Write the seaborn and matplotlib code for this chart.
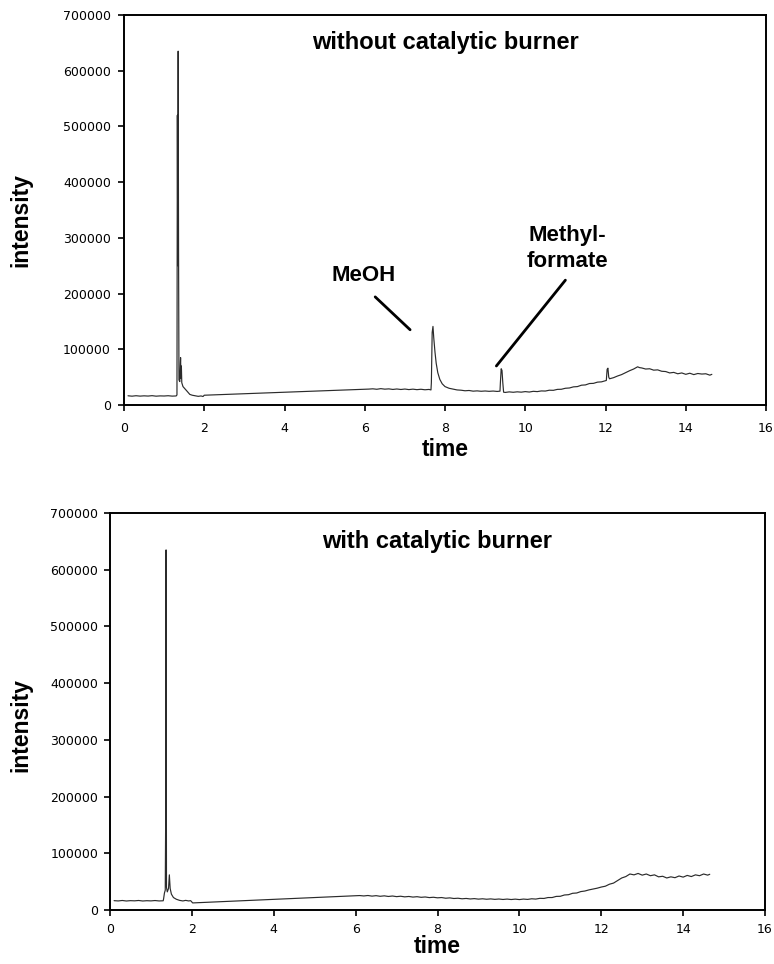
import matplotlib
matplotlib.use("Agg")
import matplotlib.pyplot as plt
import seaborn as sns
import pandas as pd

# Chromatogram without the catalytic burner (time in min, detector intensity)
time_without = [
    0.10, 0.20, 0.30, 0.40, 0.50, 0.60, 0.70, 0.80, 0.90, 1.00, 1.10, 1.20, 1.30,
    1.32, 1.33, 1.34, 1.35, 1.36, 1.37, 1.39, 1.41, 1.42, 1.43, 1.44, 1.47, 1.52,
    1.58, 1.64, 1.70, 1.78, 1.85, 1.92, 1.97, 2.00,
    6.10, 6.20, 6.30, 6.40, 6.50, 6.60, 6.70, 6.80, 6.90, 7.00, 7.10, 7.20, 7.30,
    7.40, 7.50, 7.60, 7.65,
    7.66, 7.68, 7.70, 7.72, 7.75, 7.78, 7.82, 7.87, 7.93, 8.00, 8.10, 8.20, 8.30,
    8.40, 8.50, 8.60, 8.70, 8.80, 8.90, 9.00, 9.10, 9.20, 9.30, 9.37,
    9.38, 9.40, 9.42, 9.44, 9.46, 9.50, 9.60, 9.70, 9.80, 9.90, 10.00, 10.10,
    10.20, 10.30, 10.40, 10.50, 10.60, 10.70, 10.80, 10.90, 11.00, 11.10, 11.20,
    11.30, 11.40, 11.50, 11.60, 11.70, 11.80, 11.90, 12.00, 12.02, 12.04, 12.06,
    12.08, 12.10, 12.20, 12.30, 12.40, 12.50, 12.60, 12.70, 12.80, 12.85, 12.90,
    13.00, 13.10, 13.20, 13.30, 13.40, 13.50, 13.60, 13.70, 13.80, 13.90, 14.00,
    14.10, 14.20, 14.30, 14.40, 14.50, 14.60, 14.65,
]
intensity_without = [
    16500, 15800, 16600, 15900, 16400, 16000, 16700, 15800, 16300, 16100, 16600, 15900, 16200,
    18000, 520000, 250000, 635000, 270000, 45000, 42000, 85000, 48000, 70000, 40000, 33000, 29000,
    24000, 19000, 17500, 16500, 15500, 16200, 15200, 17500,
    28500, 29000, 28200, 29300, 28400, 28900, 27900, 28700, 27800, 28600, 27600, 28400, 27500,
    28200, 27300, 27900, 27000,
    40000, 130000, 141000, 120000, 95000, 75000, 58000, 46000, 38000, 33000, 30000, 28500, 27000,
    26500, 25500, 26000, 24800, 25300, 24600, 25100, 24500, 25000, 24300, 24800,
    40000, 65000, 62000, 40000, 23000, 22500, 23500, 22800, 23600, 23000, 24000, 23200,
    24500, 24000, 25200, 25000, 26500, 26300, 28000, 28200, 30000, 30500, 32500,
    33000, 35500, 36000, 38500, 38800, 41000, 41500, 43500, 44000, 64000, 66000,
    50000, 47000, 49000, 52000, 54500, 58000, 61500, 64500, 68500, 67000, 66500,
    64500, 65000, 62500, 63000, 60500, 60000, 57500, 58500, 56000, 57500, 55000,
    57000, 54500, 56500, 55500, 56000, 53500, 55000,
]

# Chromatogram with the catalytic burner
time_with = [
    0.10, 0.20, 0.30, 0.40, 0.50, 0.60, 0.70, 0.80, 0.90, 1.00, 1.10, 1.20, 1.30,
    1.31, 1.33, 1.35, 1.36, 1.37, 1.38, 1.40, 1.43, 1.45, 1.47, 1.50, 1.55, 1.62,
    1.70, 1.78, 1.85, 1.92, 1.97, 2.02,
    6.10, 6.20, 6.30, 6.40, 6.50, 6.60, 6.70, 6.80, 6.90, 7.00, 7.10, 7.20, 7.30,
    7.40, 7.50, 7.60, 7.70, 7.80, 7.90, 8.00, 8.10, 8.20, 8.30, 8.40, 8.50, 8.60,
    8.70, 8.80, 8.90, 9.00, 9.10, 9.20, 9.30, 9.40, 9.50, 9.60, 9.70, 9.80, 9.90,
    10.00, 10.10, 10.20, 10.30, 10.40, 10.50, 10.60, 10.70, 10.80, 10.90, 11.00,
    11.10, 11.20, 11.30, 11.40, 11.50, 11.60, 11.70, 11.80, 11.90, 12.00, 12.10,
    12.20, 12.30, 12.40, 12.50, 12.60, 12.70, 12.80, 12.90, 13.00, 13.10, 13.20,
    13.30, 13.40, 13.50, 13.60, 13.70, 13.80, 13.90, 14.00, 14.10, 14.20, 14.30,
    14.40, 14.50, 14.60, 14.65,
]
intensity_with = [
    16500, 16000, 16800, 15900, 16500, 16200, 16800, 15900, 16400, 16100, 16700, 16000, 16300,
    20000, 30000, 35000, 160000, 635000, 40000, 32000, 38000, 62000, 38000, 28000, 22000, 19000,
    17000, 16000, 17000, 16000, 16500, 12500,
    25500, 24800, 25600, 24500, 25300, 24200, 25000, 23900, 24700, 23600, 24300, 23200, 23900,
    22800, 23500, 22400, 23000, 21900, 22500, 21500, 22000, 20800, 21400, 20300, 20800, 19800,
    20400, 19500, 20100, 19200, 19800, 19000, 19600, 18800, 19400, 18600, 19300, 18500, 19200,
    18400, 19300, 18700, 19800, 19300, 20600, 20400, 22000, 22000, 24000, 24200,
    26500, 27000, 29500, 30000, 32500, 33500, 35500, 37000, 38500, 40500, 42000,
    45500, 47500, 52000, 56500, 59000, 63500, 62000, 64500, 61500, 63500, 60500,
    62000, 58500, 59500, 56500, 58500, 57000, 60000, 58000, 61000, 59000, 62000,
    60500, 63500, 61500, 63000,
]

panel_titles = ["without catalytic burner", "with catalytic burner"]
x_ticks = [0, 2, 4, 6, 8, 10, 12, 14, 16]
y_ticks = [0, 100000, 200000, 300000, 400000, 500000, 600000, 700000]

sns.set_style("ticks")
plt.rcParams["font.family"] = ["Liberation Sans", "DejaVu Sans"]
plt.rcParams["text.color"] = "black"
plt.rcParams["axes.labelcolor"] = "black"
plt.rcParams["xtick.color"] = "black"
plt.rcParams["ytick.color"] = "black"

fig = plt.figure(figsize=(7.74, 9.64), dpi=100)
ax_top = fig.add_axes([0.1602, 0.5799, 0.8295, 0.4046])
ax_bot = fig.add_axes([0.1421, 0.0560, 0.8463, 0.4118])

traces = [
    (ax_top, pd.DataFrame({"time": time_without, "intensity": intensity_without})),
    (ax_bot, pd.DataFrame({"time": time_with, "intensity": intensity_with})),
]

for (ax, df), title in zip(traces, panel_titles):
    sns.lineplot(data=df, x="time", y="intensity", ax=ax, color="#2b2b2b",
                 linewidth=0.85, estimator=None)
    ax.set_xlim(0, 16)
    ax.set_ylim(0, 700000)
    ax.set_xticks(x_ticks)
    ax.set_yticks(y_ticks)
    ax.set_xticklabels([str(v) for v in x_ticks], fontfamily="DejaVu Sans", fontsize=9)
    ax.set_yticklabels([str(v) for v in y_ticks], fontfamily="DejaVu Sans", fontsize=9)
    ax.tick_params(axis="both", direction="out", length=4.5, width=1.2,
                   color="black", labelcolor="black")
    for side in ["top", "right", "left", "bottom"]:
        ax.spines[side].set_visible(True)
        ax.spines[side].set_color("black")
        ax.spines[side].set_linewidth(1.4)
    ax.set_xlabel("time", fontsize=16.5, fontweight="bold", color="black")
    ax.set_ylabel("intensity", fontsize=16.5, fontweight="bold", color="black")
    ax.text(8, 650000, title, ha="center", va="center", fontsize=17,
            fontweight="bold", color="black")

ax_top.tick_params(axis="x", pad=8)
ax_top.tick_params(axis="y", pad=5)
ax_bot.tick_params(axis="x", pad=5)
ax_bot.tick_params(axis="y", pad=4)

ax_top.xaxis.set_label_coords(0.5, -0.085)
ax_top.yaxis.set_label_coords(-0.142, 0.474)
ax_bot.xaxis.set_label_coords(0.5, -0.062)
ax_bot.yaxis.set_label_coords(-0.118, 0.466)

# Peak labels with their pointer lines
ax_top.text(5.97, 233000, "MeOH", ha="center", va="center", fontsize=16,
            fontweight="bold", color="black")
ax_top.annotate("", xy=(7.13, 135000), xytext=(6.26, 194000),
                arrowprops=dict(arrowstyle="-", lw=2, color="black", shrinkA=0, shrinkB=0))
ax_top.text(11.05, 281000, "Methyl-\nformate", ha="center", va="center", fontsize=16,
            fontweight="bold", linespacing=1.3, color="black")
ax_top.annotate("", xy=(9.28, 70000), xytext=(11.0, 224000),
                arrowprops=dict(arrowstyle="-", lw=2, color="black", shrinkA=0, shrinkB=0))

fig.savefig("out.png", dpi=100)
